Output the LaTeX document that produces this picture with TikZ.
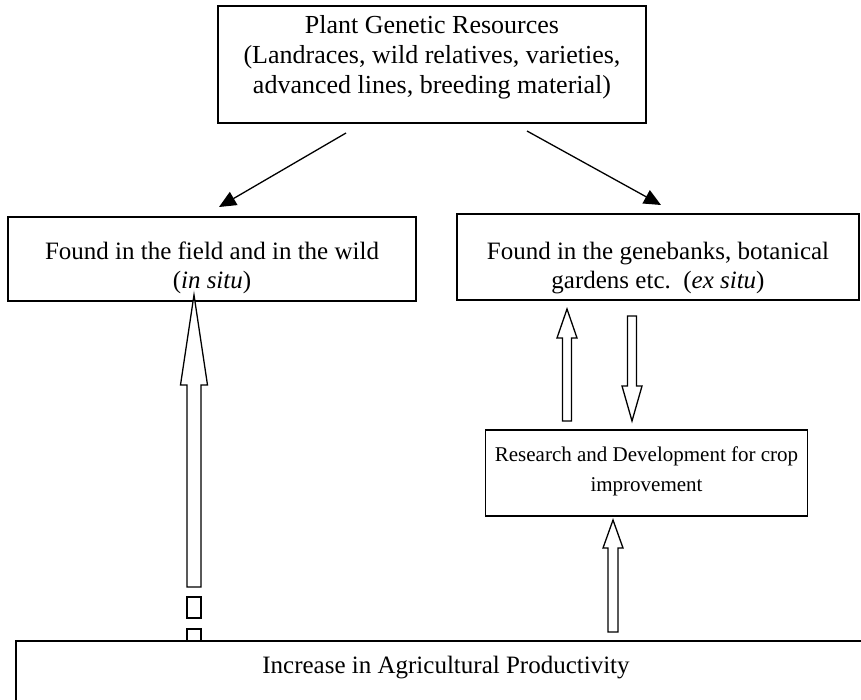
\documentclass[tikz,border=0pt]{standalone}
\usepackage{fontspec}
\setmainfont{Liberation Serif}
\usetikzlibrary{arrows.meta,calc}

\tikzset{
  box/.style={draw, line width=1.6pt, inner sep=0pt},
  txt/.style={align=center, font=\fontsize{25}{29.5}\selectfont, inner sep=0pt},
  bigtxt/.style={txt, font=\fontsize{26}{30}\selectfont},
  smalltxt/.style={txt, font=\fontsize{21}{30}\selectfont},
  link/.style={line width=1.3pt, -{Triangle[length=17pt,width=15pt]}},
  hollow/.style={draw, fill=white, line width=1.3pt, line join=miter},
}

% vertical block arrow: x, tail y, tip y, head base y, head half width, shaft half width
\newcommand\blockarrow[6]{%
  \draw[hollow] (#1-#6,#2) -- (#1-#6,#4) -- (#1-#5,#4) -- (#1,#3)
    -- (#1+#5,#4) -- (#1+#6,#4) -- (#1+#6,#2) -- cycle;}
% one dash of a broken shaft: x, top y, bottom y, half width
\newcommand\shaftpiece[4]{%
  \draw[hollow] (#1-#4,#2) rectangle (#1+#4,#3);}

\begin{document}
\begin{tikzpicture}[x=1pt,y=-1pt]
\useasboundingbox (0,0) rectangle (861,699);

% boxes
\node[box, minimum width=428pt, minimum height=117pt] (top) at (432,64.5) {};
\node[bigtxt] (topT) at (432,57) {Plant Genetic Resources\\(Landraces, wild relatives, varieties,\\advanced lines, breeding material)};

\node[box, minimum width=408pt, minimum height=84pt] (left) at (212,259) {};
\node[txt] (leftT) at (212,268) {Found in the field and in the wild\\(\textit{in situ})};

\node[box, minimum width=402pt, minimum height=86pt] (right) at (658,257) {};
\node[txt] (rightT) at (658,268) {Found in the genebanks, botanical\\gardens etc.\ \ (\textit{ex situ})};

\node[box, minimum width=322pt, minimum height=86pt] (rd) at (646.5,473) {};
\node[smalltxt] (rdT) at (646.5,471) {Research and Development for crop\\improvement};

\node[box, minimum width=870pt, minimum height=80pt] (prod) at (451,681) {};
\node[txt] (prodT) at (446,668) {Increase in Agricultural Productivity};

% black connectors from the top box
\coordinate (lfrom) at (346,133);
\coordinate (lto) at (219,207);
\coordinate (rfrom) at (527,131);
\coordinate (rto) at (661,205);
\draw[link] (lfrom) -- (lto);
\draw[link] (rfrom) -- (rto);

% broken block arrow from productivity up to in situ
\blockarrow{194}{587}{295}{385}{13.5}{7}
\shaftpiece{194}{597}{618}{7}
\shaftpiece{194}{629}{641}{7}

% block arrows around research box
\blockarrow{567}{421}{309}{338}{10}{4.5}
\blockarrow{632}{316}{421}{386}{10}{4.5}
\blockarrow{613}{632}{520}{548}{10}{5}
\end{tikzpicture}
\end{document}
